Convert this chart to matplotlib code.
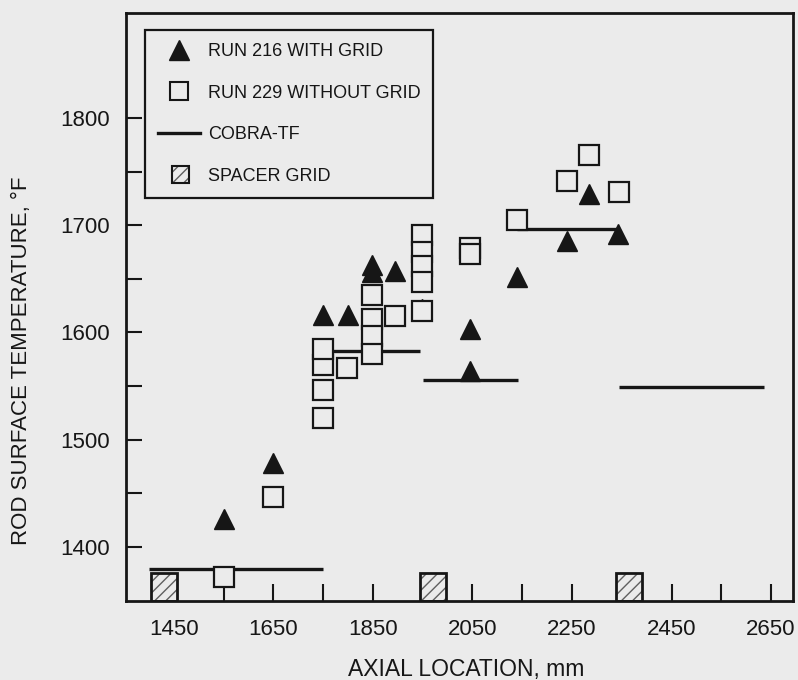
import matplotlib
matplotlib.use("Agg")
import matplotlib.pyplot as plt
from matplotlib.lines import Line2D
from matplotlib.patches import Rectangle
from matplotlib.legend_handler import HandlerBase

plt.rcParams['font.family'] = ['Liberation Sans', 'DejaVu Sans']
plt.rcParams['hatch.linewidth'] = 1.0

# ---------------- data ----------------
run216_x = [1550, 1650, 1750, 1800, 1848, 1848, 1895, 1948, 2045, 2045, 2140, 2240, 2285, 2342]
run216_T = [1426, 1478, 1616, 1616, 1663, 1656, 1657, 1622, 1603, 1564, 1652, 1685, 1729, 1692]

run229_x = [1550, 1650, 1750, 1750, 1750, 1750, 1798, 1848, 1848, 1848, 1848, 1895,
            1948, 1948, 1948, 1948, 1948, 2045, 2045, 2140, 2240, 2285, 2345]
run229_T = [1372, 1447, 1520, 1546, 1570, 1585, 1567, 1635, 1613, 1597, 1580, 1615,
            1691, 1675, 1662, 1647, 1620, 1679, 1673, 1705, 1741, 1765, 1731]

cobra_start = [1400, 1750, 1950, 2140, 2345]
cobra_end = [1750, 1945, 2142, 2345, 2635]
cobra_T = [1380, 1583, 1556, 1696, 1549]

grid_x = [1430, 1970, 2365]
grid_width = 52
grid_top = 1376

xticks_major = [1450, 1650, 1850, 2050, 2250, 2450, 2650]
xticks_minor = [1550, 1750, 1950, 2150, 2350, 2550]
yticks_major = [1400, 1500, 1600, 1700, 1800]
yticks_minor = [1450, 1550, 1650, 1750]

labels = ["RUN 216 WITH GRID", "RUN 229 WITHOUT GRID", "COBRA-TF", "SPACER GRID"]

# ---------------- style ----------------
BG = '#ebebeb'
INK = '#161616'
HATCH = '#606060'

fig = plt.figure(figsize=(7.98, 6.8), dpi=100, facecolor=BG)
ax = fig.add_axes([0.1579, 0.1166, 0.8358, 0.8647])
ax.set_facecolor(BG)

ax.set_xlim(1354, 2694)
ax.set_ylim(1350, 1898)

# COBRA-TF segments
ax.hlines(cobra_T, cobra_start, cobra_end, colors=INK, linewidth=2.4, zorder=2)

# spacer grids
bottom = ax.get_ylim()[0]
ax.bar(grid_x, [grid_top - bottom] * len(grid_x), bottom=bottom, width=grid_width,
       color=BG, edgecolor=HATCH, linewidth=0, hatch='///', zorder=2.5)
ax.bar(grid_x, [grid_top - bottom] * len(grid_x), bottom=bottom, width=grid_width,
       fill=False, edgecolor=INK, linewidth=2.0, zorder=2.6)

# data
ax.plot(run216_x, run216_T, ls='none', marker='^', ms=15, color=INK, mec=INK, zorder=3)
ax.plot(run229_x, run229_T, ls='none', marker='s', ms=14, mfc=BG, mec=INK, mew=1.6, zorder=4)

# axes styling
for s in ax.spines.values():
    s.set_linewidth(2.0)
    s.set_color(INK)

ax.set_xticks(xticks_major)
ax.set_xticks(xticks_minor, minor=True)
ax.set_yticks(yticks_major)
ax.set_yticks(yticks_minor, minor=True)
ax.tick_params(axis='x', which='both', direction='in', length=12.5, width=1.5,
               color=INK, labelsize=16, pad=13.5, labelcolor=INK)
ax.tick_params(axis='y', which='both', direction='in', length=11.5, width=1.5,
               color=INK, labelsize=16, pad=11.5, labelcolor=INK)

ax.set_xlabel("AXIAL LOCATION, mm", fontsize=16.5, color=INK)
ax.xaxis.set_label_coords(0.51, -0.097)
ax.set_ylabel("ROD SURFACE TEMPERATURE, °F", fontsize=16, color=INK)
ax.yaxis.set_label_coords(-0.141, 0.408)


# legend
class HandlerGrid(HandlerBase):
    def create_artists(self, legend, orig_handle, xdescent, ydescent,
                       width, height, fontsize, trans):
        s = 12.5
        x0 = -xdescent + width / 2 - s / 2 + 1
        y0 = -ydescent + height / 2 - s / 2
        p1 = Rectangle((x0, y0), s, s, facecolor=BG, edgecolor=HATCH,
                       linewidth=0, hatch='///', transform=trans)
        p2 = Rectangle((x0, y0), s, s, fill=False, edgecolor=INK,
                       linewidth=1.5, transform=trans)
        return [p1, p2]


grid_handle = Rectangle((0, 0), 1, 1)
handles = [
    Line2D([], [], ls='none', marker='^', ms=14, color=INK),
    Line2D([], [], ls='none', marker='s', ms=13, mfc=BG, mec=INK, mew=1.5),
    Line2D([], [], color=INK, linewidth=2.4),
    grid_handle,
]
leg = ax.legend(handles, labels, loc='upper left', bbox_to_anchor=(0.0285, 0.9706),
                borderaxespad=0, fontsize=13, frameon=True, fancybox=False,
                edgecolor=INK, facecolor=BG, framealpha=1, numpoints=1,
                handlelength=2.35, handletextpad=0.4, labelspacing=1.36,
                borderpad=0.72, handler_map={Rectangle: HandlerGrid()})
leg.get_frame().set_linewidth(1.6)
for t in leg.get_texts():
    t.set_color(INK)

fig.savefig("out.png", dpi=100, facecolor=BG)
